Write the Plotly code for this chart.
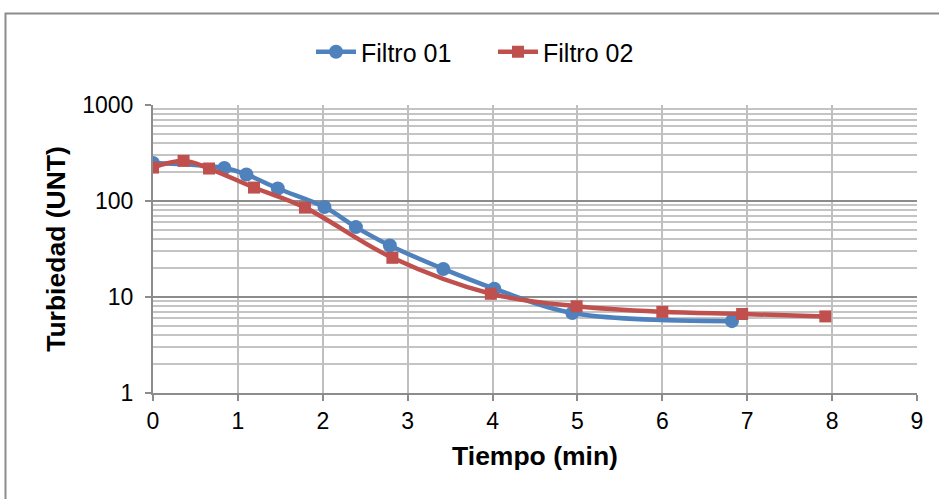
import plotly.graph_objects as go

f1_x = [0, 0.84, 1.10, 1.47, 2.02, 2.39, 2.79, 3.42, 4.02, 4.94, 6.82]
f1_y = [249, 221, 189, 135, 86.5, 53.5, 34.4, 19.6, 12.2, 6.8, 5.6]
f2_x = [0, 0.36, 0.66, 1.19, 1.79, 2.82, 3.98, 4.99, 6.0, 6.94, 7.92]
f2_y = [223, 262, 218, 138, 85.3, 25.6, 10.8, 8.0, 7.0, 6.65, 6.28]
x_ticks = list(range(0, 10))
y_ticks = [1, 10, 100, 1000]

FONT = "Liberation Sans, Arial, sans-serif"

fig = go.Figure()
fig.add_trace(go.Scatter(
    x=f1_x, y=f1_y, name="Filtro 01", mode="lines+markers",
    line=dict(color="#4F81BD", width=4.5, shape="spline", smoothing=1),
    marker=dict(symbol="circle", size=14, color="#4F81BD"),
))
fig.add_trace(go.Scatter(
    x=f2_x, y=f2_y, name="Filtro 02", mode="lines+markers",
    line=dict(color="#C0504D", width=4.5, shape="spline", smoothing=1),
    marker=dict(symbol="square", size=12, color="#C0504D"),
))

W, H = 939, 499
L, R, T, B = 153, 22, 105, 106
pw, ph = W - L - R, H - T - B

def px_to_paper_x(px):
    return (px - L) / pw

def px_to_paper_y(py):
    return (H - B - py) / ph

fig.add_shape(type="rect", xref="paper", yref="paper",
              x0=px_to_paper_x(5.5), x1=px_to_paper_x(950),
              y0=px_to_paper_y(520), y1=px_to_paper_y(13.5),
              line=dict(color="#8c8c8c", width=2), layer="below")

fig.update_layout(
    width=W, height=H,
    margin=dict(l=L, r=R, t=T, b=B),
    paper_bgcolor="white", plot_bgcolor="white",
    font=dict(family=FONT, size=23, color="#000000"),
    showlegend=True,
    legend=dict(orientation="h", x=px_to_paper_x(311), xanchor="left",
                y=px_to_paper_y(52), yanchor="middle",
                font=dict(size=25, family=FONT), itemwidth=40,
                entrywidth=127, entrywidthmode="pixels",
                bgcolor="rgba(0,0,0,0)"),
    xaxis=dict(
        range=[0, 9], tickvals=x_ticks, ticktext=[str(v) for v in x_ticks],
        showgrid=True, gridcolor="#bfbfbf", gridwidth=1.5,
        showline=True, linecolor="#8c8c8c", linewidth=2,
        ticks="outside", ticklen=6, tickcolor="#8c8c8c", tickwidth=2,
        zeroline=False,
        tickfont=dict(size=23),
        title=dict(text="<b>Tiempo (min)</b>", font=dict(size=26.5), standoff=14),
    ),
    yaxis=dict(
        type="log", range=[0, 3], tickvals=y_ticks,
        ticktext=[str(v) for v in y_ticks],
        showgrid=True, gridcolor="#8c8c8c", gridwidth=1.5,
        showline=True, linecolor="#8c8c8c", linewidth=2,
        ticks="outside", ticklen=6, tickcolor="#8c8c8c", tickwidth=2,
        ticklabelstandoff=7,
        zeroline=False,
        tickfont=dict(size=23),
        minor=dict(dtick="D1", showgrid=True, gridcolor="#c4c4c4",
                   gridwidth=1.5, ticks=""),
        title=dict(text="<b>Turbiedad (UNT)</b>", font=dict(size=26.5), standoff=9),
    ),
)

fig.write_html("out.html", config={"displayModeBar": False},
               post_script="document.body.style.margin='0';")
